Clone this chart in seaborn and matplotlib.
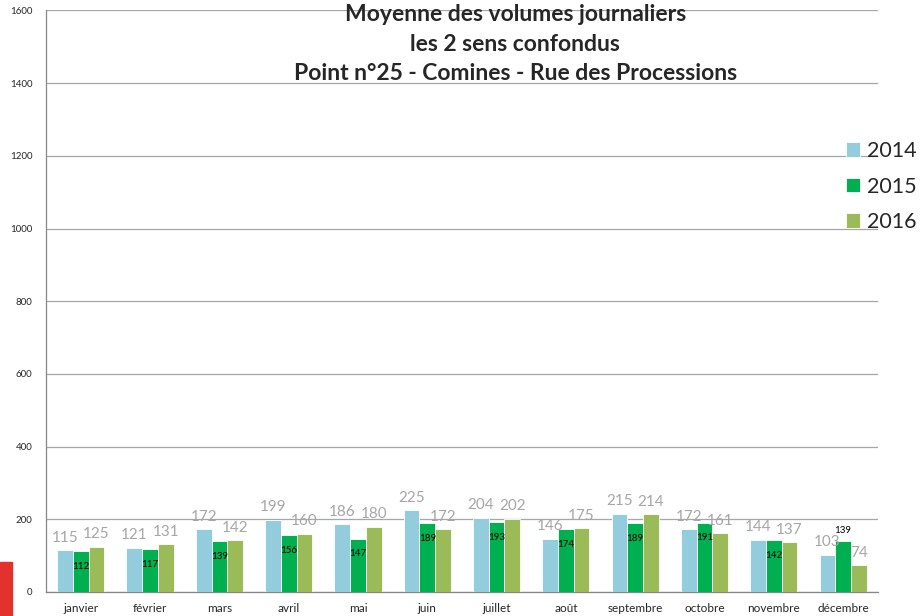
import pandas as pd
import seaborn as sns
import matplotlib
import matplotlib.pyplot as plt
from matplotlib.patches import Rectangle

matplotlib.use('Agg')

months = ['janvier', 'février', 'mars', 'avril', 'mai', 'juin',
          'juillet', 'août', 'septembre', 'octobre', 'novembre', 'décembre']
years = ['2014', '2015', '2016']
v2014 = [115, 121, 172, 199, 186, 225, 204, 146, 215, 172, 144, 103]
v2015 = [112, 117, 139, 156, 147, 189, 193, 174, 189, 191, 142, 139]
v2016 = [125, 131, 142, 160, 180, 172, 202, 175, 214, 161, 137, 74]
colors = ['#93CDDD', '#00B050', '#9BBB59']

rows = []
for year, vals in zip(years, [v2014, v2015, v2016]):
	for m, v in zip(months, vals):
		rows.append({'mois': m, 'annee': year, 'volume': v})
df = pd.DataFrame(rows)

sns.set_style('white')
plt.rcParams['font.family'] = ['Lato', 'DejaVu Sans']

fig = plt.figure(figsize=(9.22, 6.16), dpi=100)
ax = fig.add_axes([0.050, 0.039, 0.902, 0.944])

sns.barplot(data=df, x='mois', y='volume', hue='annee', palette=colors,
			saturation=1, width=0.68, edgecolor='white', linewidth=0.6,
			ax=ax, zorder=3)

ax.set_ylim(0, 1600)
ax.set_xlim(-0.5, 11.5)
ax.set_yticks(range(0, 1601, 200))
ax.yaxis.grid(True, color='#a6a6a6', linewidth=0.9, zorder=0)
ax.set_axisbelow(True)
ax.tick_params(axis='y', labelsize=7, length=4, color='#868686', pad=6)
ax.tick_params(axis='x', which='major', labelsize=8.5, length=0, pad=8)
ax.set_xticks([i + 0.5 for i in range(-1, 12)], minor=True)
ax.tick_params(axis='x', which='minor', length=5, color='#868686')
ax.set_xlabel('')
ax.set_ylabel('')
for s in ['top', 'right']:
	ax.spines[s].set_visible(False)
for s in ['left', 'bottom']:
	ax.spines[s].set_color('#868686')
	ax.spines[s].set_linewidth(0.9)

# value labels
for i, cont in enumerate(ax.containers):
	if i == 1:
		for j, bar in enumerate(cont):
			h = bar.get_height()
			off = 8 if months[j] == 'décembre' else -11
			ax.annotate(f'{int(h)}', (bar.get_x() + bar.get_width() / 2, h),
						xytext=(0, off), textcoords='offset points',
						ha='center', va='center', fontsize=7, color='black')
	else:
		ax.bar_label(cont, fmt='%d', padding=4, fontsize=11, color='#a6a6a6')

ax.legend(loc='upper left', bbox_to_anchor=(0.951, 0.79), frameon=False,
		  fontsize=15.5, handlelength=0.65, handleheight=0.65, handletextpad=0.35,
		  labelspacing=0.72, borderaxespad=0)

fig.text(0.559, 0.993, 'Moyenne des volumes journaliers\nles 2 sens confondus\nPoint n°25 - Comines - Rue des Processions',
		 ha='center', va='top', fontsize=16.5, fontweight='bold', linespacing=1.5)

fig.patches.append(Rectangle((0, 0), 0.013, 0.088, transform=fig.transFigure,
							 color='#E3312D', zorder=5))

plt.savefig('out.png', dpi=100)
